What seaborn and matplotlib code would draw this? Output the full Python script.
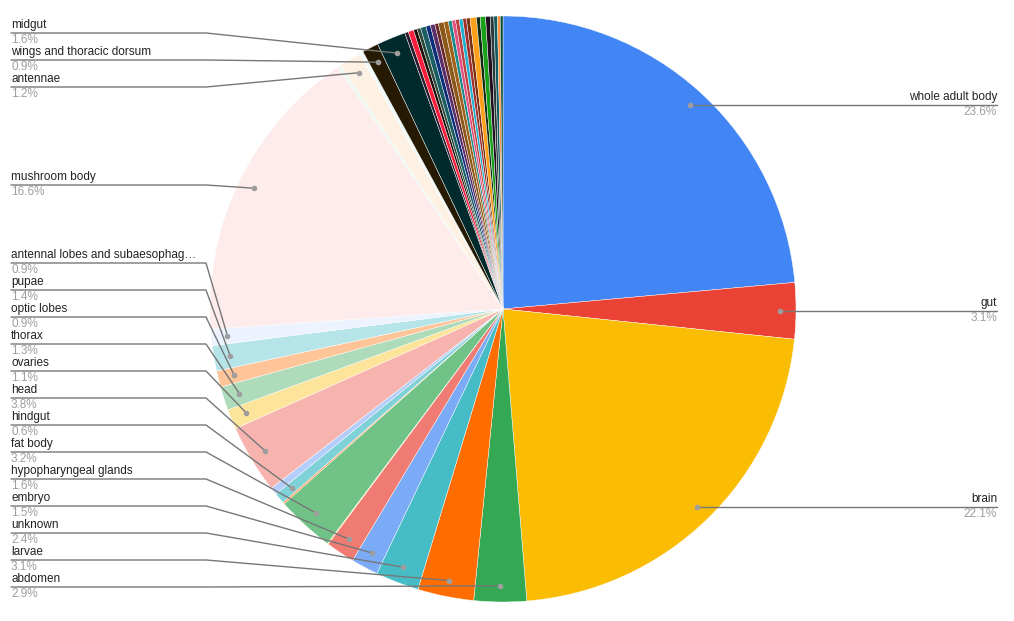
import matplotlib
matplotlib.use("Agg")
import matplotlib.pyplot as plt
import seaborn as sns
import numpy as np

# slices in clockwise order from 12 o'clock; empty label = not annotated
labels = [
    "whole adult body", "gut", "brain", "abdomen", "larvae", "unknown", "embryo",
    "hypopharyngeal glands", "", "fat body", "", "hindgut", "", "head", "ovaries",
    "thorax", "optic lobes", "pupae", "antennal lobes and subaesophag\u2026",
    "mushroom body", "", "antennae", "", "wings and thoracic dorsum", "midgut",
]
values = [
    23.6, 3.1, 22.1, 2.9, 3.1, 2.4, 1.5,
    1.6, 0.05, 3.2, 0.1, 0.6, 0.4, 3.8, 1.1,
    1.3, 0.9, 1.4, 0.9,
    16.6, 0.2, 1.2, 0.2, 0.9, 1.6,
]
colors = [
    "#4285f4", "#ea4335", "#fbbc04", "#34a853", "#ff6d01", "#46bdc6", "#7baaf7",
    "#f07b72", "#fcd04f", "#71c287", "#ff994d", "#7ed1d7", "#b3cefb", "#f7b4ae", "#fde49b",
    "#aedcba", "#ffc599", "#b5e5e8", "#ecf3fe",
    "#fdeceb", "#eef7f0", "#fdf1e3", "#f1fafb", "#261a02", "#002a2c",
]
# many tiny unlabeled slices near the top
tail_values = [0.2, 0.3, 0.2, 0.2, 0.3, 0.25, 0.25, 0.2, 0.3, 0.25, 0.2, 0.2,
               0.2, 0.2, 0.2, 0.2, 0.35, 0.2, 0.3, 0.25, 0.2, 0.2, 0.15, 0.15]
tail_colors = ["#2a1b2e", "#ff1e3c", "#1f0f0a", "#2b4a3a", "#1b5e63", "#0d2f7a",
               "#5a2d6b", "#6b2a2a", "#8b5a1a", "#a0601a", "#1a8a8a", "#e05080",
               "#c04040", "#20b0d0", "#a03030", "#7a3010", "#ff9f1a", "#102a10",
               "#19a019", "#20101f", "#2a3a3a", "#105a60", "#ff9040", "#0a4a30"]

all_values = values + tail_values
all_colors = colors + tail_colors
all_labels = labels + [""] * len(tail_values)
total = sum(all_values)

sns.set_theme(style="white")
plt.rcParams["font.family"] = ["Liberation Sans", "DejaVu Sans"]

W, H = 1014, 621
fig = plt.figure(figsize=(W / 100, H / 100), dpi=100)
ax = fig.add_axes([0, 0, 1, 1])
cx, cy, R = 503, 309, 293

wedges, _ = ax.pie(all_values, colors=all_colors, startangle=-90, counterclock=True,
                   center=(cx, cy), radius=R,
                   wedgeprops=dict(edgecolor="white", linewidth=0.3))
ax.set_xlim(0, W)
ax.set_ylim(H, 0)
ax.set_aspect("auto")
ax.axis("off")

grey = "#9e9e9e"
left_y = 587
left_slots = {"mushroom body": 185, "antennae": 87,
              "wings and thoracic dorsum": 60, "midgut": 33}
for w, lab, v in zip(wedges, all_labels, all_values):
    if not lab:
        continue
    mid = np.deg2rad((w.theta1 + w.theta2) / 2)
    px = cx + 0.945 * R * np.cos(mid)
    py = cy + 0.945 * R * np.sin(mid)
    pct = f"{100 * v / total:.1f}%"
    ax.plot(px, py, "o", ms=3, color=grey, zorder=5)
    if px > cx:
        ax.plot([px, 997], [py, py], color="#777777", lw=1)
        ax.text(997, py - 2, lab, ha="right", va="bottom", fontsize=8.5, color="#222222")
        ax.text(997, py + 1, pct, ha="right", va="top", fontsize=8.5, color=grey)
    else:
        if lab in left_slots:
            ly = left_slots[lab]
        else:
            ly = left_y
            left_y -= 27
        ax.plot([px, 206, 11], [py, ly, ly], color="#777777", lw=1)
        ax.text(11, ly - 2, lab, ha="left", va="bottom", fontsize=8.5, color="#222222")
        ax.text(11, ly + 1, pct, ha="left", va="top", fontsize=8.5, color=grey)

fig.savefig("out.png", dpi=100)
